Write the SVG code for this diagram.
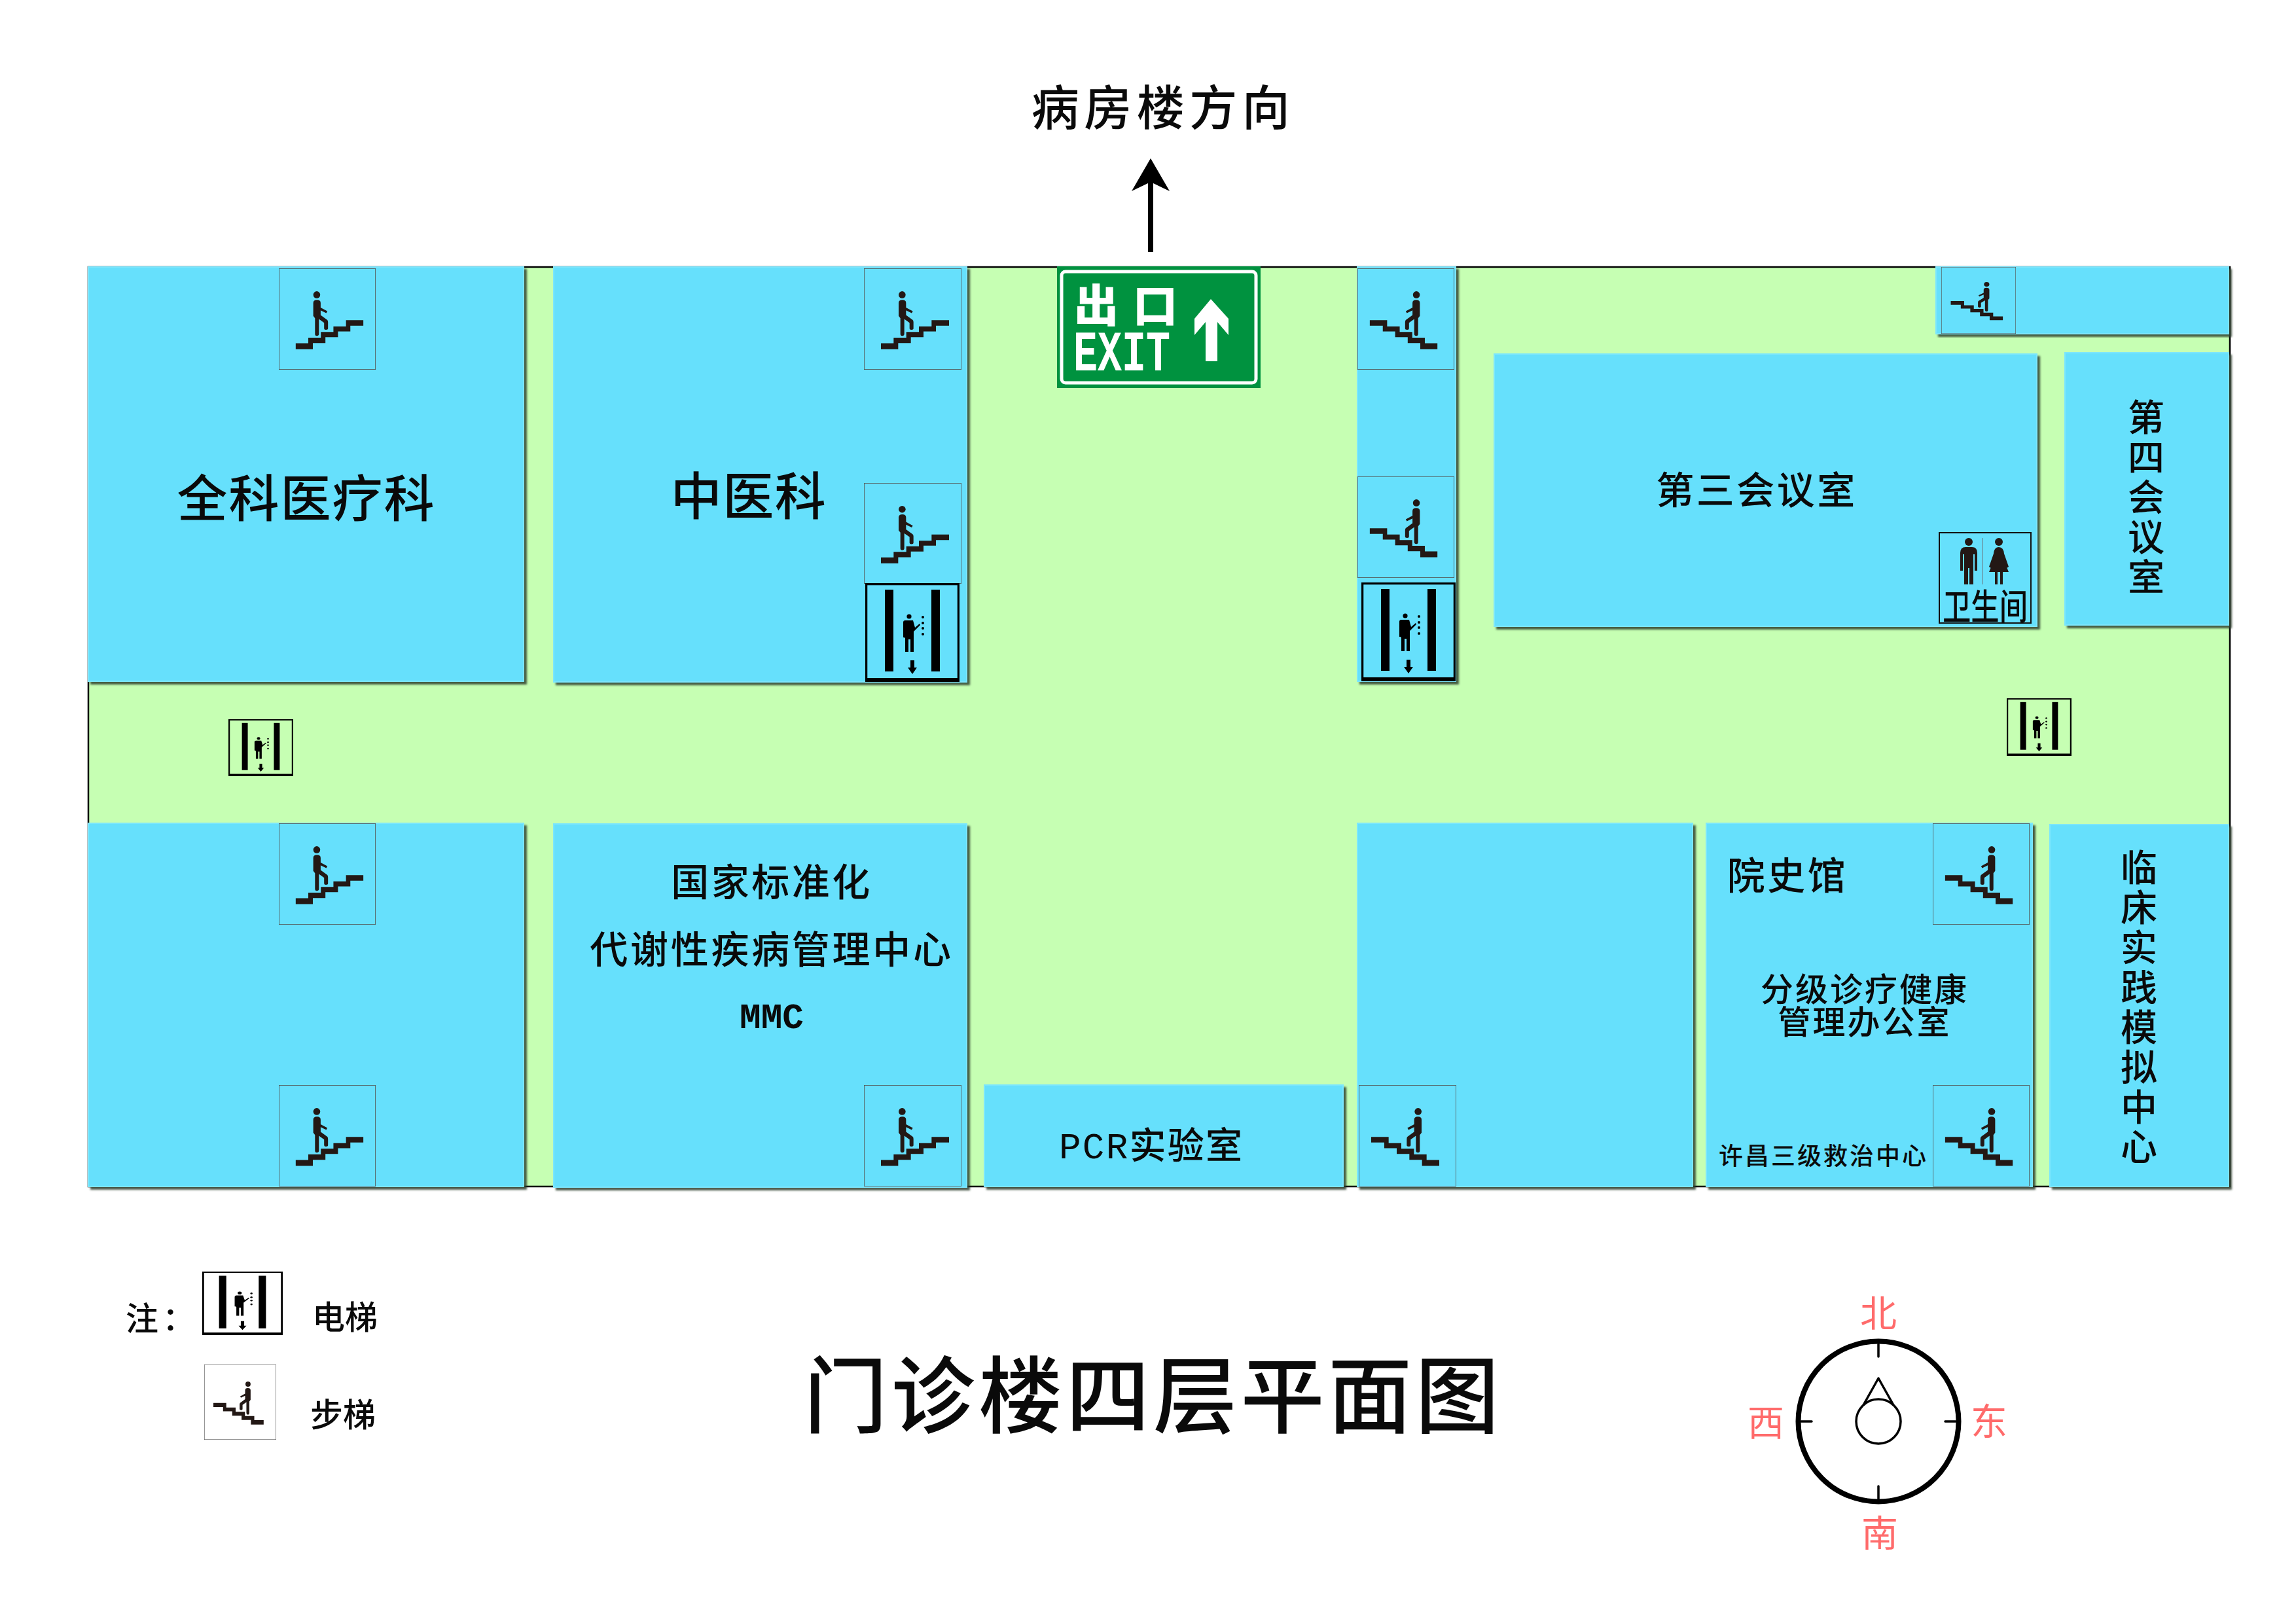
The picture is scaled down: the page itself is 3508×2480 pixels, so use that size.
<svg xmlns="http://www.w3.org/2000/svg" width="3508" height="2480" viewBox="0 0 3508 2480">
<defs>
<style>
text{font-family:"Noto Sans CJK SC","Liberation Sans",sans-serif;font-weight:500;fill:#0a0a0a;text-anchor:middle}
.room{fill:#66E0FC;stroke:#7CE6FD;stroke-width:2;filter:url(#sh)}
.red{fill:#FF6B6B;font-size:56px;font-weight:400}
.ink{fill:#231815}
.k{fill:#000}
.mono{font-family:"Liberation Mono",monospace;font-weight:700}
</style>
<filter id="sh" x="-5%" y="-5%" width="110%" height="110%"><feDropShadow dx="4" dy="4" stdDeviation="1.6" flood-color="#2f3f2f" flood-opacity=".85"/></filter>
<g id="walker">
<path class="ink" d="M200 398H258V372H316V346H374V320H432V291H512V317H452V343H395V370H337V397H279V425H200Z"/>
<circle class="ink" cx="297" cy="174" r="16"/>
<path class="ink" d="M281 212Q281 198 298 198Q315 198 315 212V233L346 250L341 259L315 246V268L345 290Q349 293 349 300V330Q349 336 339 336Q331 336 331 330V303L307 286V354Q307 364 297 364Q289 364 289 354V282L281 272Z"/>
</g>
<symbol id="up" viewBox="122 52 447 468" preserveAspectRatio="none">
<rect x="122" y="52" width="447" height="468" fill="none" stroke="#555" stroke-width="5"/>
<use href="#walker"/>
</symbol>
<symbol id="down" viewBox="122 52 447 468" preserveAspectRatio="none">
<rect x="122" y="52" width="447" height="468" fill="none" stroke="#555" stroke-width="5"/>
<use href="#walker" transform="translate(691,0) scale(-1,1)"/>
</symbol>
<symbol id="lift" viewBox="0 0 144 151" preserveAspectRatio="none">
<rect x="1.5" y="1.5" width="141" height="148" fill="none" stroke="#000" stroke-width="3.5"/>
<rect class="k" x="0" y="145" width="144" height="6"/>
<rect class="k" x="30" y="10" width="13" height="125"/>
<rect class="k" x="101" y="10" width="13" height="125"/>
<circle class="k" cx="67" cy="51" r="3.6"/>
<path class="k" d="M58 60Q58 57 61 57H73L76 68L83 62L84 64L74 74V105H69V86H66V105H61V84H60V83H58Z"/>
<circle class="k" cx="88" cy="52" r="2"/><circle class="k" cx="88" cy="61" r="2"/><circle class="k" cx="88" cy="69" r="2"/><circle class="k" cx="88" cy="78" r="2"/>
<path class="k" d="M69 118H75V129H79L72 139L65 129H69Z"/>
</symbol>
</defs>
<rect id="page" width="3508" height="2480" fill="#fff"/>
<rect id="floor" x="135" y="408" width="3272" height="1405" fill="#C6FFB3" stroke="#000" stroke-width="2.5"/>

<g id="north-arrow-label">
<text x="1777" y="191" font-size="73" letter-spacing="7.5">病房楼方向</text>
<path class="k" d="M1754 385V280L1729 292L1758 242L1787 292L1762 280V385Z"/>
</g>

<g id="exit">
<rect x="1615" y="407" width="311" height="186" fill="#00923F"/>
<rect x="1622" y="415" width="297" height="170" rx="6" fill="none" stroke="#fff" stroke-width="5"/>
<text x="1675" y="492" font-size="68" style="fill:#fff;font-weight:900">出</text>
<text x="1765" y="492" font-size="68" style="fill:#fff;font-weight:900">口</text>
<text class="mono" x="1640" y="566" font-size="88" textLength="148" lengthAdjust="spacingAndGlyphs" style="fill:#fff;text-anchor:start">EXIT</text>
<path fill="#fff" d="M1850 457L1877 487V512L1860 492V552H1842V492L1825 512V487Z"/>
</g>

<g id="room-quanke">
<rect class="room" x="135" y="408" width="665" height="633"/>
<use href="#up" x="426" y="410" width="148" height="155"/>
<text x="468" y="790" font-size="77" letter-spacing="2">全科医疗科</text>
</g>

<g id="room-zhongyi">
<rect class="room" x="846" y="408" width="631" height="634"/>
<use href="#up" x="1320" y="410" width="149" height="155"/>
<use href="#up" x="1320" y="738" width="149" height="154"/>
<use href="#lift" x="1322" y="891" width="144" height="151"/>
<text x="1144" y="787" font-size="78" letter-spacing="1.5">中医科</text>
</g>

<g id="room-stair-column">
<rect class="room" x="2074" y="408" width="150" height="633"/>
<use href="#down" x="2074" y="410" width="148" height="155"/>
<use href="#down" x="2074" y="728" width="148" height="155"/>
<use href="#lift" x="2080" y="890" width="144" height="151"/>
</g>

<g id="room-top-strip">
<rect class="room" x="2958" y="408" width="447" height="102"/>
<use href="#down" x="2966" y="408" width="114" height="102"/>
</g>

<g id="room-meeting-3">
<rect class="room" x="2283" y="541" width="829" height="416"/>
<text x="2684" y="770" font-size="58" letter-spacing="3.5">第三会议室</text>
<g id="toilet">
<rect x="2963" y="814" width="140" height="138" fill="none" stroke="#111" stroke-width="2"/>
<circle class="ink" cx="3008" cy="828" r="6"/>
<path class="ink" d="M2995 845Q2995 836 3003 836H3013Q3021 836 3021 845V872H3017V847H3015V893H3009V868H3007V893H3001V847H2999V872H2995Z"/>
<path stroke="#6a9aa8" stroke-width="1.5" d="M3029 822V893"/>
<circle class="ink" cx="3054" cy="828" r="6"/>
<path class="ink" d="M3046 846Q3047 836 3054 836Q3061 836 3062 846L3069 866L3066 868L3060 852L3069 874H3060V893H3056V874H3052V893H3048V874H3039L3048 852L3042 868L3039 866Z"/>
<text x="3033" y="947" font-size="54" textLength="130" lengthAdjust="spacingAndGlyphs">卫生间</text>
</g>
</g>

<g id="room-meeting-4">
<rect class="room" x="3155" y="539" width="250" height="416"/>
<text font-size="56"><tspan x="3279" y="658">第</tspan><tspan x="3279" y="719">四</tspan><tspan x="3279" y="780">会</tspan><tspan x="3279" y="841">议</tspan><tspan x="3279" y="902">室</tspan></text>
</g>

<use href="#lift" id="lift-west" x="349" y="1099" width="99" height="87"/>
<use href="#lift" id="lift-east" x="3066" y="1067" width="99" height="88"/>

<g id="room-sw">
<rect class="room" x="135" y="1258" width="665" height="555"/>
<use href="#up" x="426" y="1258" width="148" height="155"/>
<use href="#up" x="426" y="1658" width="148" height="155"/>
</g>

<g id="room-mmc">
<rect class="room" x="846" y="1259" width="631" height="555"/>
<use href="#up" x="1320" y="1658" width="149" height="155"/>
<text x="1179" y="1369" font-size="58" letter-spacing="3.5">国家标准化</text>
<text x="1179" y="1472" font-size="58" letter-spacing="3.7">代谢性疾病管理中心</text>
<text class="mono" x="1179" y="1571" font-size="54" textLength="98" lengthAdjust="spacingAndGlyphs">MMC</text>
</g>

<g id="room-pcr">
<rect class="room" x="1504" y="1658" width="548" height="155"/>
<text x="1758" y="1770" font-size="56" textLength="280" lengthAdjust="spacing"><tspan class="mono" style="font-weight:400">PCR</tspan>实验室</text>
</g>

<g id="room-se1">
<rect class="room" x="2074" y="1258" width="512" height="555"/>
<use href="#down" x="2076" y="1658" width="149" height="155"/>
</g>

<g id="room-history">
<rect class="room" x="2607" y="1258" width="498" height="555"/>
<use href="#down" x="2953" y="1258" width="148" height="155"/>
<use href="#down" x="2953" y="1658" width="148" height="155"/>
<text x="2731" y="1359" font-size="58" letter-spacing="3.5">院史馆</text>
<text x="2849" y="1530" font-size="50" letter-spacing="3">分级诊疗健康</text>
<text x="2849" y="1580" font-size="50" letter-spacing="3">管理办公室</text>
<text x="2786" y="1780" font-size="37" letter-spacing="3">许昌三级救治中心</text>
</g>

<g id="room-clinical">
<rect class="room" x="3132" y="1260" width="273" height="553"/>
<text font-size="56"><tspan x="3268" y="1346">临</tspan><tspan x="3268" y="1407">床</tspan><tspan x="3268" y="1468">实</tspan><tspan x="3268" y="1529">践</tspan><tspan x="3268" y="1590">模</tspan><tspan x="3268" y="1651">拟</tspan><tspan x="3268" y="1712">中</tspan><tspan x="3268" y="1773">心</tspan></text>
</g>

<g id="legend">
<text x="192" y="2033" font-size="50" letter-spacing="6" style="text-anchor:start">注：</text>
<use href="#lift" x="309" y="1943" width="123" height="97"/>
<text x="477" y="2031" font-size="50" style="text-anchor:start">电梯</text>
<use href="#down" x="312" y="2085" width="110" height="115"/>
<text x="474" y="2180" font-size="50" style="text-anchor:start">步梯</text>
</g>

<text id="title" x="1762" y="2180" font-size="128" letter-spacing="5.5">门诊楼四层平面图</text>

<g id="compass" fill="none" stroke="#000">
<circle cx="2870" cy="2172" r="122.5" stroke-width="8"/>
<path stroke-width="3.5" stroke-linecap="round" d="M2870 2054V2073M2870 2271V2290M2752 2172H2768M2972 2172H2988"/>
<circle cx="2870" cy="2172" r="34" stroke-width="3.5"/>
<path stroke-width="3.5" stroke-linejoin="round" d="M2847 2147L2870 2106L2893 2147"/>
<text class="red" x="2870" y="2027" stroke="none">北</text>
<text class="red" x="2698" y="2194" stroke="none">西</text>
<text class="red" x="3039" y="2192" stroke="none">东</text>
<text class="red" x="2872" y="2363" stroke="none">南</text>
</g>
</svg>
